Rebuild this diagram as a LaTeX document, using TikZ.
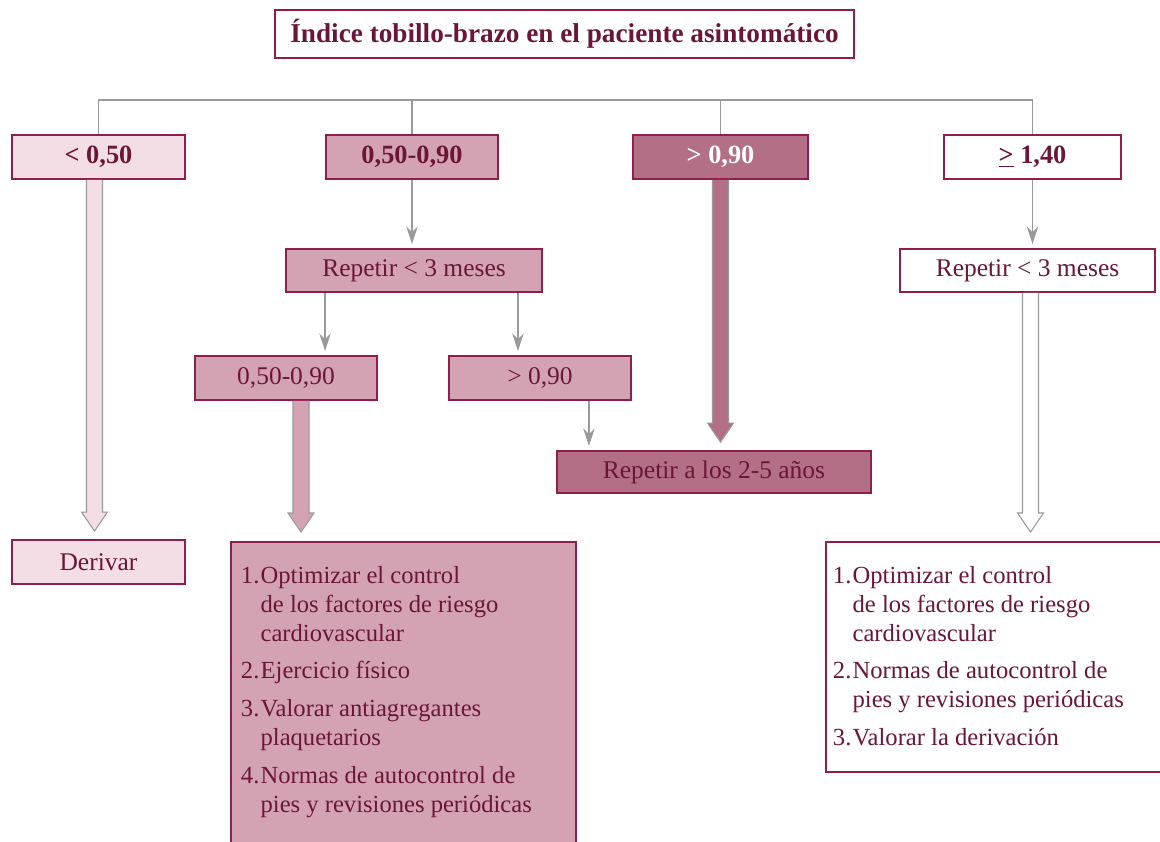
\documentclass[tikz,border=0pt]{standalone}
\usepackage{fontspec}
\setmainfont{Liberation Serif}
\usepackage{xcolor}
\usepackage{tikz}
\usetikzlibrary{arrows.meta,calc}

\definecolor{ruby}{HTML}{8F1D4E}
\definecolor{inkred}{HTML}{6B1538}
\definecolor{rosaA}{HTML}{F2DEE4}
\definecolor{rosaB}{HTML}{D4A3B3}
\definecolor{rosaC}{HTML}{B36F86}
\definecolor{linegray}{HTML}{9A9A9A}

\tikzset{
  box/.style={draw=ruby, line width=1.1pt, text=inkred, inner sep=0pt, align=center,
    minimum height=0.88cm, font=\fontsize{14.5}{17}\selectfont},
  titletext/.style={font=\bfseries\fontsize{15.5}{18}\selectfont},
  firstrow/.style={font=\bfseries\fontsize{15}{18}\selectfont},
  link/.style={draw=linegray, line width=0.8pt},
  arr/.style={link, shorten >=0.08cm, -{Stealth[length=10pt,width=6.5pt]}},
  fat/.style={draw=linegray, line width=0.6pt},
}

% wide arrow: start, tip, fill
\newcommand{\fatarrow}[3]{%
  \filldraw[fat, fill=#3] ($(#1)+(-8,0)$) -- ($(#2)+(-8,-19)$) -- ($(#2)+(-13,-19)$)
    -- (#2) -- ($(#2)+(13,-19)$) -- ($(#2)+(8,-19)$) -- ($(#1)+(8,0)$);}
% numbered line with hanging text
\newcommand{\numitem}[2]{\par\hangindent=0.8em\hangafter=1\noindent\makebox[0.8em][l]{#1}#2\par}

\begin{document}
\begin{tikzpicture}[x=0.02cm, y=-0.02cm]
  \useasboundingbox (0,0) rectangle (1160,842);
  \clip (0,0) rectangle (1160,842);

  \node[box, titletext, minimum width=11.58cm, minimum height=0.96cm] (title) at (564.5,34)
    {Índice tobillo-brazo en el paciente asintomático};

  % first split
  \node[box, firstrow, fill=rosaA, minimum width=3.46cm] (lt) at (98.5,157) {< 0,50};
  \node[box, firstrow, fill=rosaB, minimum width=3.44cm] (mid) at (412,157) {0,50-0,90};
  \node[box, firstrow, fill=rosaC, text=white, minimum width=3.5cm] (gt) at (720.5,157) {> 0,90};
  \node[box, firstrow, fill=white, minimum width=3.54cm] (ge) at (1032.5,157) {\underline{>} 1,40};

  \coordinate (bar) at (0,100);
  \draw[link] (lt.north) |- (bar -| ge.north) -- (ge.north);
  \draw[link] (mid.north) -- (mid.north |- bar);
  \draw[link] (gt.north) -- (gt.north |- bar);

  \node[box, fill=rosaB, minimum width=5.12cm, minimum height=0.86cm] (repmid) at (414,270.5) {Repetir < 3 meses};
  \node[box, fill=white, minimum width=5.1cm, minimum height=0.86cm] (repge) at (1027.5,270.5) {Repetir < 3 meses};
  \node[box, fill=rosaB, minimum width=3.64cm] (low) at (286,378) {0,50-0,90};
  \node[box, fill=rosaB, minimum width=3.64cm] (high) at (540,378) {> 0,90};
  \node[box, fill=rosaC, minimum width=6.28cm, minimum height=0.84cm] (rep25) at (714,472) {Repetir a los 2-5 años};
  \node[box, fill=rosaA, minimum width=3.46cm] (deriv) at (98.5,562) {Derivar};

  \node[box, fill=rosaB, anchor=north west, align=left, inner xsep=0.2cm, inner ysep=0.48cm] (plan) at (230,541)
    {\begin{minipage}[t][6cm][t]{6.5cm}\fontsize{14}{16.5}\selectfont\parskip=5pt
      \numitem{1.}{Optimizar el control\\de los factores de riesgo\\cardiovascular}
      \numitem{2.}{Ejercicio físico}
      \numitem{3.}{Valorar antiagregantes\\plaquetarios}
      \numitem{4.}{Normas de autocontrol de\\pies y revisiones periódicas}
    \end{minipage}};
  \node[box, fill=white, anchor=north west, align=left, inner xsep=0.14cm, inner ysep=0.48cm] (plange) at (825,541)
    {\begin{minipage}[t][3.64cm][t]{6.72cm}\fontsize{14}{16.5}\selectfont\parskip=5pt
      \numitem{1.}{Optimizar el control\\de los factores de riesgo\\cardiovascular}
      \numitem{2.}{Normas de autocontrol de\\pies y revisiones periódicas}
      \numitem{3.}{Valorar la derivación}
    \end{minipage}};

  % thin arrows
  \draw[arr] (mid.south) -- (mid.south |- repmid.north); % mid-repmid
  \coordinate (s1) at ($(repmid.south west)+(40,0)$);
  \draw[arr] (s1) -- (s1 |- low.north); % repmid-low
  \coordinate (s2) at ($(repmid.south east)+(-25,0)$);
  \draw[arr] (s2) -- (s2 |- high.north); % repmid-high
  \coordinate (s3) at ($(high.south east)+(-43,0)$);
  \draw[arr] (s3) -- (s3 |- rep25.north); % high-rep25
  \draw[arr] (ge.south) -- (ge.south |- repge.north); % ge-repge

  % wide arrows
  \coordinate (f1) at ($(lt.south)+(-4,0)$);
  \coordinate (t1) at ($(f1 |- deriv.north)+(0,-8)$);
  \fatarrow{f1}{t1}{rosaA} % lt-deriv
  \coordinate (f2) at ($(low.south)+(15,0)$);
  \coordinate (t2) at ($(f2 |- plan.north)+(0,-9)$);
  \fatarrow{f2}{t2}{rosaB} % low-plan
  \coordinate (f3) at (gt.south);
  \coordinate (t3) at ($(f3 |- rep25.north)+(0,-8)$);
  \fatarrow{f3}{t3}{rosaC} % gt-rep25
  \coordinate (f4) at ($(repge.south)+(3,0)$);
  \coordinate (t4) at ($(f4 |- plange.north)+(0,-9)$);
  \fatarrow{f4}{t4}{white} % repge-plange
\end{tikzpicture}
\end{document}
